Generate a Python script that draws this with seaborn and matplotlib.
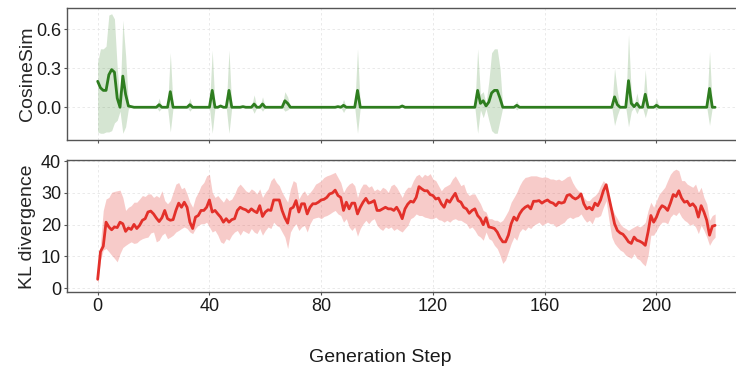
import matplotlib
matplotlib.use("Agg")
import numpy as np
import pandas as pd
import seaborn as sns
import matplotlib.pyplot as plt

# ---------------- data ----------------
kl_mean = [
    2.8, 11.5, 13.2, 20.8, 19.3, 18.4, 19.3, 19.1, 20.8, 20.3,
    17.9, 19.0, 18.5, 20.1, 18.8, 19.8, 21.4, 21.9, 24.0, 24.3,
    23.4, 22.1, 21.0, 22.2, 24.5, 21.9, 21.4, 21.6, 24.5, 26.8,
    25.5, 27.1, 25.5, 20.8, 18.8, 22.4, 22.9, 24.5, 24.5, 25.5,
    27.8, 24.0, 24.5, 23.4, 22.4, 20.8, 21.9, 20.8, 21.6, 21.9,
    24.5, 25.5, 25.0, 24.7, 24.0, 25.0, 24.3, 23.8, 26.0, 22.6,
    24.0, 24.7, 24.5, 27.8, 27.8, 27.8, 24.5, 22.2, 20.5, 25.0,
    25.5, 27.6, 24.0, 26.6, 26.6, 23.4, 25.5, 26.6, 26.6, 27.1,
    27.8, 28.0, 28.6, 29.7, 30.0, 30.9, 29.2, 28.6, 24.5, 27.1,
    25.0, 26.8, 26.8, 23.4, 25.5, 27.1, 28.3, 26.8, 27.1, 27.6,
    24.5, 24.5, 25.0, 25.5, 25.0, 25.0, 24.5, 25.5, 24.0, 21.9,
    25.0, 26.5, 27.4, 27.1, 28.6, 32.0, 31.3, 30.7, 30.7, 29.5,
    29.2, 28.1, 28.4, 26.6, 25.5, 27.8, 27.1, 28.6, 29.9, 27.6,
    27.1, 25.5, 25.0, 23.6, 24.5, 25.0, 22.9, 21.9, 20.0, 22.2,
    19.3, 19.1, 18.8, 17.7, 15.9, 14.6, 14.6, 16.7, 20.3, 22.4,
    21.4, 23.4, 24.7, 25.5, 26.0, 25.0, 27.4, 27.4, 27.6, 26.8,
    27.4, 27.8, 27.1, 26.8, 26.0, 27.1, 26.8, 27.1, 29.2, 29.5,
    28.6, 28.1, 28.6, 29.7, 26.6, 25.0, 25.5, 24.7, 26.8, 26.0,
    27.8, 30.7, 32.6, 28.6, 24.5, 20.3, 18.2, 17.4, 17.0, 15.9,
    14.6, 14.1, 16.1, 15.1, 14.8, 14.3, 13.5, 17.7, 22.9, 20.8,
    22.4, 24.7, 26.0, 25.5, 24.5, 26.8, 29.5, 28.9, 30.7, 28.4,
    27.1, 27.4, 26.0, 26.6, 25.5, 22.4, 26.0, 24.0, 21.4, 16.7,
    19.5, 19.8,
]
kl_hi = [
    4.2, 14.1, 24.5, 28.1, 28.6, 30.2, 30.5, 30.7, 30.9, 28.6,
    24.5, 25.5, 26.0, 27.1, 27.1, 28.1, 29.2, 28.9, 29.7, 29.7,
    28.6, 29.2, 28.6, 30.7, 27.6, 26.6, 27.6, 30.2, 32.8, 33.3,
    31.3, 31.8, 29.7, 27.1, 25.5, 28.6, 30.2, 32.3, 33.3, 35.4,
    35.9, 30.2, 28.6, 29.2, 28.1, 27.1, 28.6, 27.6, 28.1, 29.7,
    31.8, 32.8, 31.8, 30.7, 30.2, 31.3, 30.7, 29.7, 31.3, 28.6,
    30.2, 31.3, 33.9, 34.9, 33.3, 32.3, 30.2, 28.6, 27.1, 31.3,
    33.9, 33.3, 28.1, 29.7, 30.7, 29.2, 30.2, 31.3, 32.8, 33.3,
    33.9, 34.9, 35.4, 35.7, 36.1, 36.5, 34.9, 33.3, 30.2, 31.8,
    32.8, 33.3, 32.3, 28.6, 31.3, 32.8, 32.8, 31.8, 32.3, 30.7,
    31.3, 30.7, 31.8, 31.3, 30.2, 32.3, 32.8, 31.8, 30.2, 28.6,
    30.7, 31.8, 31.8, 33.9, 35.4, 35.9, 34.9, 35.9, 35.4, 36.1,
    34.4, 33.9, 32.3, 30.7, 31.8, 32.3, 32.8, 34.4, 35.4, 33.9,
    32.3, 32.8, 30.2, 29.2, 29.7, 29.7, 28.1, 26.6, 24.5, 24.0,
    21.9, 21.9, 21.4, 21.4, 20.8, 21.4, 22.9, 24.5, 27.1, 28.6,
    30.2, 32.3, 33.9, 34.9, 35.1, 35.4, 35.4, 35.4, 35.1, 34.9,
    35.1, 34.9, 34.4, 34.4, 34.1, 34.4, 33.9, 34.4, 35.1, 35.4,
    33.3, 31.8, 30.7, 30.2, 28.6, 27.6, 27.6, 28.6, 29.2, 30.2,
    32.3, 33.9, 32.8, 28.6, 25.5, 23.4, 21.9, 20.3, 19.3, 18.8,
    18.2, 18.8, 19.3, 19.8, 19.3, 19.8, 20.8, 24.5, 27.1, 25.5,
    27.6, 29.7, 30.7, 31.8, 33.9, 35.9, 37.0, 37.5, 37.0, 33.9,
    33.9, 32.8, 32.3, 31.8, 32.8, 30.2, 31.8, 28.6, 26.6, 21.4,
    22.9, 23.4,
]
kl_lo = [
    1.0, 8.9, 12.0, 12.5, 11.5, 10.4, 9.4, 8.3, 10.9, 12.8,
    13.5, 14.1, 14.6, 14.1, 14.3, 15.1, 15.6, 15.9, 16.1, 17.4,
    17.7, 14.6, 15.1, 16.7, 17.4, 15.6, 16.1, 16.7, 17.7, 18.2,
    18.8, 19.3, 18.8, 17.7, 17.2, 18.8, 19.8, 20.3, 20.3, 20.8,
    19.3, 17.7, 18.2, 16.7, 14.6, 14.1, 15.6, 15.1, 16.7, 17.7,
    18.2, 16.7, 18.2, 17.7, 17.2, 18.8, 17.7, 17.2, 18.8, 16.7,
    18.2, 19.3, 18.8, 20.8, 19.8, 19.3, 17.7, 16.1, 12.5, 17.7,
    19.3, 20.3, 18.2, 19.3, 19.8, 17.7, 20.3, 21.9, 22.2, 22.4,
    21.9, 22.6, 22.9, 23.4, 24.0, 24.5, 23.4, 22.9, 20.8, 21.9,
    19.3, 18.2, 19.3, 16.4, 18.8, 20.3, 21.4, 20.3, 21.4, 21.9,
    19.8, 18.8, 18.2, 19.3, 18.8, 19.3, 18.2, 18.8, 18.2, 17.7,
    18.8, 19.8, 21.9, 22.4, 23.4, 22.9, 22.9, 22.4, 22.2, 21.9,
    21.9, 22.4, 21.6, 21.4, 20.8, 21.4, 20.8, 21.6, 21.9, 21.4,
    21.4, 20.8, 20.3, 18.8, 19.3, 18.2, 16.7, 16.1, 15.1, 17.7,
    15.6, 15.1, 13.5, 12.5, 10.4, 7.8, 8.9, 11.5, 14.1, 16.1,
    15.1, 17.7, 18.8, 18.2, 19.3, 18.8, 19.8, 20.3, 20.8, 19.8,
    20.3, 20.8, 20.3, 20.3, 19.3, 19.8, 20.3, 20.8, 21.9, 22.4,
    21.9, 22.4, 22.6, 23.4, 21.9, 20.8, 21.4, 20.3, 22.4, 22.4,
    22.9, 25.5, 27.6, 21.4, 16.1, 14.1, 13.0, 12.0, 11.5, 10.4,
    9.9, 9.4, 10.9, 9.4, 8.9, 7.8, 7.0, 10.4, 16.7, 16.7,
    18.2, 19.8, 20.8, 20.8, 20.3, 22.4, 23.4, 22.9, 24.0, 22.4,
    21.4, 20.8, 19.8, 20.3, 19.3, 17.2, 19.8, 18.2, 16.1, 13.5,
    15.1, 16.1,
]

cos_mean = [
    0.20, 0.15, 0.13, 0.13, 0.25, 0.29, 0.27, 0.07, 0.00, 0.24, 0.10, 0.01, 0.005, 0, 0, 0, 0, 0, 0, 0,
    0, 0, 0.02, 0, 0, 0, 0.12, 0, 0, 0, 0, 0, 0, 0.02, 0, 0, 0, 0, 0, 0,
    0, 0.13, 0, 0, 0.01, 0, 0, 0.13, 0, 0, 0, 0, 0.005, 0, 0, 0, 0.025, 0, 0, 0.025,
    0, 0, 0, 0, 0, 0, 0, 0.05, 0.03, 0, 0, 0, 0, 0, 0, 0, 0, 0, 0, 0,
    0, 0, 0, 0, 0, 0, 0.005, 0, 0.015, 0, 0, 0, 0, 0.13, 0, 0, 0, 0, 0, 0,
    0, 0, 0, 0, 0, 0, 0, 0, 0, 0.01, 0, 0, 0, 0, 0, 0, 0, 0, 0, 0,
    0, 0, 0, 0, 0, 0, 0, 0, 0, 0, 0, 0, 0, 0, 0, 0, 0.13, 0.03, 0.05, 0.01,
    0.04, 0.11, 0.13, 0.13, 0.07, 0, 0, 0, 0, 0, 0.015, 0, 0, 0, 0, 0, 0, 0, 0, 0,
    0, 0, 0, 0, 0, 0, 0, 0, 0, 0, 0, 0, 0, 0, 0, 0, 0, 0, 0, 0,
    0, 0, 0, 0, 0, 0.08, 0.02, 0, 0, 0, 0.205, 0.03, 0.005, 0.03, 0, 0, 0.10, 0, 0, 0,
    0.015, 0, 0, 0, 0, 0, 0, 0, 0, 0, 0, 0, 0, 0, 0, 0, 0, 0, 0, 0.145,
    0, 0,
]
cos_hi = [
    0.35, 0.45, 0.45, 0.47, 0.71, 0.72, 0.68, 0.30, 0.05, 0.67, 0.40, 0.03, 0.01, 0, 0, 0, 0, 0, 0, 0,
    0, 0, 0.07, 0, 0, 0, 0.42, 0, 0, 0, 0, 0, 0, 0.07, 0, 0, 0, 0, 0, 0,
    0, 0.44, 0, 0, 0.02, 0, 0, 0.44, 0, 0, 0, 0, 0.01, 0, 0, 0, 0.095, 0, 0, 0.08,
    0, 0, 0, 0, 0, 0, 0, 0.12, 0.08, 0, 0, 0, 0, 0, 0, 0, 0, 0, 0, 0,
    0, 0, 0, 0, 0, 0, 0.01, 0, 0.06, 0, 0, 0, 0, 0.45, 0, 0, 0, 0, 0, 0,
    0, 0, 0, 0, 0, 0, 0, 0, 0, 0.02, 0, 0, 0, 0, 0, 0, 0, 0, 0, 0,
    0, 0, 0, 0, 0, 0, 0, 0, 0, 0, 0, 0, 0, 0, 0, 0, 0.45, 0.10, 0.12, 0.03,
    0.20, 0.42, 0.45, 0.45, 0.30, 0, 0, 0, 0, 0, 0.05, 0, 0, 0, 0, 0, 0, 0, 0, 0,
    0, 0, 0, 0, 0, 0, 0, 0, 0, 0, 0, 0, 0, 0, 0, 0, 0, 0, 0, 0,
    0, 0, 0, 0, 0, 0.30, 0.12, 0, 0, 0, 0.56, 0.10, 0.01, 0.11, 0, 0, 0.29, 0, 0, 0,
    0.07, 0, 0, 0, 0, 0, 0, 0, 0, 0, 0, 0, 0, 0, 0, 0, 0, 0, 0, 0.43,
    0, 0,
]
cos_lo = [
    -0.19, -0.20, -0.20, -0.19, -0.19, -0.18, -0.12, -0.10, -0.03, -0.20, -0.15, -0.01, 0, 0, 0, 0, 0, 0, 0, 0,
    0, 0, -0.03, 0, 0, 0, -0.19, 0, 0, 0, 0, 0, 0, -0.03, 0, 0, 0, 0, 0, 0,
    0, -0.20, 0, 0, 0, 0, 0, -0.20, 0, 0, 0, 0, 0, 0, 0, 0, -0.046, 0, 0, -0.03,
    0, 0, 0, 0, 0, 0, 0, -0.03, -0.02, 0, 0, 0, 0, 0, 0, 0, 0, 0, 0, 0,
    0, 0, 0, 0, 0, 0, 0, 0, -0.04, 0, 0, 0, 0, -0.20, 0, 0, 0, 0, 0, 0,
    0, 0, 0, 0, 0, 0, 0, 0, 0, 0, 0, 0, 0, 0, 0, 0, 0, 0, 0, 0,
    0, 0, 0, 0, 0, 0, 0, 0, 0, 0, 0, 0, 0, 0, 0, 0, -0.20, -0.02, -0.08, -0.01,
    -0.10, -0.18, -0.20, -0.20, -0.10, 0, 0, 0, 0, 0, -0.02, 0, 0, 0, 0, 0, 0, 0, 0, 0,
    0, 0, 0, 0, 0, 0, 0, 0, 0, 0, 0, 0, 0, 0, 0, 0, 0, 0, 0, 0,
    0, 0, 0, 0, 0, -0.14, -0.06, 0, 0, 0, -0.15, -0.03, 0, -0.05, 0, 0, -0.08, 0, 0, 0,
    -0.02, 0, 0, 0, 0, 0, 0, 0, 0, 0, 0, 0, 0, 0, 0, 0, 0, 0, 0, -0.14,
    0, 0,
]

x_ticks = [0, 40, 80, 120, 160, 200]
cos_ticks = [0.0, 0.3, 0.6]
kl_ticks = [0, 10, 20, 30, 40]

steps = list(range(len(kl_mean)))
df = pd.DataFrame({"step": steps, "kl": kl_mean, "kl_hi": kl_hi, "kl_lo": kl_lo,
                   "cos": cos_mean, "cos_hi": cos_hi, "cos_lo": cos_lo})

# ---------------- style ----------------
sns.set_theme(style="white")
plt.rcParams['font.family'] = ['Liberation Sans', 'DejaVu Sans']

GREEN = "#2e7d1f"
RED = "#e3302a"
SPINE = "#555555"

W, H = 736, 367
fig = plt.figure(figsize=(W / 100, H / 100), dpi=100)
left = 66.8 / W
width = (746 - 66.8) / W
ax1 = fig.add_axes([left, 1 - 140 / H, width, (140 - 8.3) / H])
ax2 = fig.add_axes([left, 1 - 292.3 / H, width, (292.3 - 160.3) / H])

# top panel
ax1.fill_between(df["step"], df["cos_lo"], df["cos_hi"], color=GREEN, alpha=0.2, linewidth=0)
sns.lineplot(data=df, x="step", y="cos", ax=ax1, color=GREEN, linewidth=2.0)
ax1.set_ylim(-0.252, 0.762)
ax1.set_yticks(cos_ticks)
ax1.set_yticklabels([f"{v:.1f}" for v in cos_ticks])
ax1.set_ylabel("CosineSim", fontsize=14)
ax1.set_xlabel("")

# bottom panel
ax2.fill_between(df["step"], df["kl_lo"], df["kl_hi"], color=RED, alpha=0.25, linewidth=0)
sns.lineplot(data=df, x="step", y="kl", ax=ax2, color=RED, linewidth=2.0)
ax2.set_ylim(-1.3, 40.3)
ax2.set_yticks(kl_ticks)
ax2.set_ylabel("KL divergence", fontsize=14)
ax2.set_xlabel("")

for ax in (ax1, ax2):
    ax.set_xlim(-11.05, 232.05)
    ax.set_xticks(x_ticks)
    ax.grid(True, linestyle=(0, (3, 3)), color="#e6e6e6", linewidth=0.6)
    ax.set_axisbelow(True)
    for sp in ax.spines.values():
        sp.set_color(SPINE)
        sp.set_linewidth(1.0)
    ax.tick_params(axis="both", which="both", direction="out", length=2.5, width=0.8,
                   color=SPINE, labelsize=13, pad=1.5, left=True, bottom=True,
                   labelcolor="#1a1a1a")
    ax.yaxis.set_label_coords(-0.046, 0.5)

ax1.tick_params(axis="x", labelbottom=False)
ax2.set_xticklabels([str(v) for v in x_ticks])

fig.text(380 / W, 1 - 362.5 / H, "Generation Step", ha="center", va="baseline",
         fontsize=14, color="#1a1a1a")

fig.savefig("out.png", dpi=100)
